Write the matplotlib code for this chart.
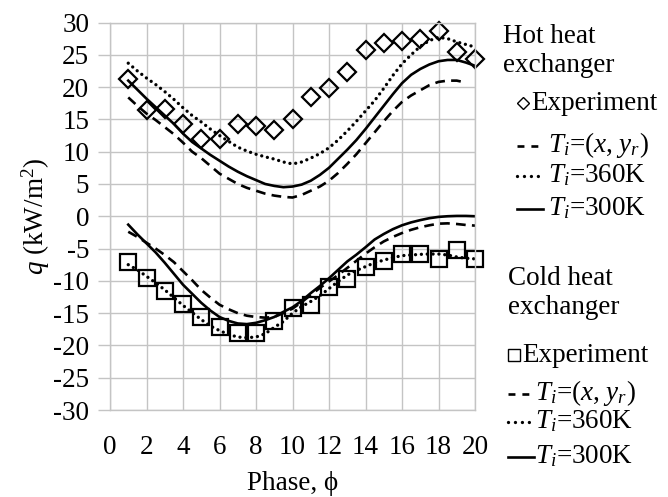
import matplotlib
matplotlib.use("Agg")
import matplotlib.pyplot as plt
from matplotlib.lines import Line2D

plt.rcParams['font.family'] = ['Liberation Serif', 'DejaVu Serif']
plt.rcParams['mathtext.fontset'] = 'custom'
plt.rcParams['mathtext.rm'] = 'Liberation Serif'
plt.rcParams['mathtext.it'] = 'Liberation Serif:italic'
plt.rcParams['lines.scale_dashes'] = False
plt.rcParams['axes.unicode_minus'] = False

# ---- data -------------------------------------------------------------
phase = [1, 2, 3, 4, 5, 6, 7, 8, 9, 10, 11, 12, 13, 14, 15, 16, 17, 18, 19, 20]
hot_exp = [21.2, 16.4, 16.6, 14.3, 12.0, 12.0, 14.3, 14.0, 13.3, 15.0,
           18.5, 19.8, 22.4, 25.7, 26.9, 27.2, 27.4, 28.7, 25.5, 24.3]
cold_exp = [-7.1, -9.5, -11.5, -13.6, -15.6, -17.2, -18.1, -18.1, -16.2, -14.2,
            -13.8, -10.9, -9.7, -7.8, -6.9, -5.8, -5.8, -6.6, -5.2, -6.6]

phase_sim = [1, 1.5, 2, 2.5, 3, 3.5, 4, 4.5, 5, 5.5, 6, 6.5, 7, 7.5, 8, 8.5,
             9, 9.5, 10, 10.5, 11, 11.5, 12, 12.5, 13, 13.5, 14, 14.5, 15,
             15.5, 16, 16.5, 17, 17.5, 18, 18.5, 19, 19.5, 20]

# hot heat exchanger, simulations
hot_xy = [18.4, 17.1, 15.9, 14.9, 13.8, 12.7, 11.4, 10.0, 9.0, 7.8, 6.6, 5.8,
          5.0, 4.4, 3.95, 3.5, 3.2, 3.0, 2.9, 3.3, 3.95, 4.6, 5.5, 6.7, 8.1,
          9.6, 11.3, 13.0, 14.7, 16.3, 17.7, 18.7, 19.5, 20.3, 20.8, 21.0,
          21.0, 20.7]
hot_360 = [23.7, 22.5, 21.4, 20.4, 19.3, 18.1, 16.8, 15.6, 14.6, 13.5, 12.5,
           11.6, 10.7, 10.1, 9.6, 9.2, 8.85, 8.4, 8.1, 8.4, 9.0, 9.7, 10.6,
           11.8, 13.2, 14.7, 16.3, 17.9, 19.8, 21.8, 23.6, 25.0, 26.3, 27.2,
           27.7, 27.5, 27.0, 26.6, 26.2]
hot_300 = [21.0, 19.6, 18.2, 16.9, 15.6, 14.3, 12.8, 11.5, 10.5, 9.5, 8.6,
           7.7, 6.9, 6.2, 5.6, 5.0, 4.7, 4.5, 4.6, 4.9, 5.5, 6.4, 7.5, 8.9,
           10.3, 11.8, 13.5, 15.3, 17.1, 18.9, 20.6, 21.9, 22.8, 23.5, 24.0,
           24.2, 24.2, 23.8, 23.3]

# cold heat exchanger, simulations
cold_xy = [-2.4, -3.2, -4.1, -5.0, -6.0, -7.1, -8.5, -9.9, -11.4, -12.6,
           -13.7, -14.4, -15.0, -15.4, -15.6, -15.7, -15.6, -15.0, -14.3,
           -13.3, -12.2, -11.1, -10.1, -9.1, -8.0, -6.9, -5.8, -4.8, -3.9,
           -3.2, -2.6, -2.1, -1.7, -1.4, -1.15, -1.1, -1.2, -1.35, -1.45]
cold_360 = [-7.5, -8.3, -9.3, -10.3, -11.4, -12.6, -13.8, -14.9, -16.0,
            -17.0, -17.7, -18.3, -18.7, -18.8, -18.7, -18.2, -17.2, -16.3,
            -15.0, -14.0, -13.2, -12.3, -11.2, -10.1, -9.1, -8.4, -7.8, -7.2,
            -6.8, -6.4, -6.1, -6.0, -5.9, -5.85, -5.85, -6.0, -6.3, -6.5, -6.6]
cold_300 = [-1.3, -2.8, -4.2, -5.6, -7.2, -8.9, -10.6, -12.0, -13.4, -14.6,
            -15.6, -16.2, -16.6, -16.7, -16.5, -16.1, -15.6, -14.8, -14.1,
            -13.1, -11.9, -10.8, -9.6, -8.3, -7.0, -5.95, -4.8, -3.6, -2.75,
            -2.0, -1.4, -0.95, -0.6, -0.3, -0.1, 0.0, 0.05, 0.05, 0.0]

x_ticks = [0, 2, 4, 6, 8, 10, 12, 14, 16, 18, 20]
y_ticks = [-30, -25, -20, -15, -10, -5, 0, 5, 10, 15, 20, 25, 30]

# ---- styles -----------------------------------------------------------
W, H = 668, 497
GRID = '#c4c4c4'
FS = 19.5
LW = 1.9
DASH = (0, (7, 4.5))
DOT = (0, (0.01, 4.2))

fig = plt.figure(figsize=(W / 100, H / 100), dpi=100)
ax = fig.add_axes([110 / W, 1 - 410 / H, 365 / W, 387.5 / H])


def px(x, y):
    return x / W, 1 - y / H


ax.set_xlim(0, 20)
ax.set_ylim(-30, 30)
ax.set_xticks(x_ticks)
ax.set_yticks(y_ticks)
ax.grid(True, color=GRID, lw=1.0)
ax.set_axisbelow(True)
for s in ax.spines.values():
    s.set_color(GRID)
    s.set_linewidth(1.0)
ax.tick_params(axis='y', length=9, width=1.0, color=GRID, pad=6, labelsize=FS)
ax.tick_params(axis='x', length=0, pad=18, labelsize=FS)

ax.set_xlabel('Phase, \u03d5', fontsize=FS, labelpad=8)
ax.set_ylabel('$q$ (kW/m$^2$)', fontsize=FS, labelpad=1)

line_kw = dict(color='black', lw=LW)
ax.plot(phase_sim[:len(hot_xy)], hot_xy, linestyle=DASH, **line_kw)
ax.plot(phase_sim, hot_360, linestyle=DOT, dash_capstyle='round', lw=2.4, color='black')
ax.plot(phase_sim, hot_300, linestyle='-', **line_kw)
ax.plot(phase, hot_exp, linestyle='none', marker='D', ms=8.8, mfc='none',
        mec='black', mew=1.6, clip_on=False)

ax.plot(phase_sim, cold_xy, linestyle=DASH, **line_kw)
ax.plot(phase_sim, cold_360, linestyle=DOT, dash_capstyle='round', lw=2.4, color='black')
ax.plot(phase_sim, cold_300, linestyle='-', **line_kw)
ax.plot(phase, cold_exp, linestyle='none', marker='s', ms=12.2, mfc='none',
        mec='black', mew=1.6, clip_on=False)

# ---- legend blocks ----------------------------------------------------
def legend_block(x0, y_title, y_rows, marker, marker_ms, sample_x, text_x):
    fig.text(*px(x0, y_title), 'Hot heat' if marker == 'D' else 'Cold heat',
             fontsize=FS, ha='left', va='baseline')
    fig.text(*px(x0, y_title + 29), 'exchanger', fontsize=FS, ha='left',
             va='baseline')
    y_exp, y_dash, y_dot, y_sol = y_rows
    mx, my = px(sample_x[0] + 6, y_exp - 7)
    fig.add_artist(Line2D([mx], [my], transform=fig.transFigure, marker=marker,
                          ms=marker_ms, mfc='none', mec='black', mew=1.0,
                          linestyle='none'))
    fig.text(*px(sample_x[0] + 14, y_exp), 'Experiment', fontsize=FS,
             ha='left', va='baseline')
    for yy, ls, lw, cap in ((y_dash, (0, (5, 5)), LW, 'butt'),
                            (y_dot, (0, (0.01, 5)), 2.4, 'round'),
                            (y_sol, '-', LW, 'butt')):
        xa, ya = px(sample_x[0], yy - 6)
        xb, _ = px(sample_x[1], yy - 6)
        fig.add_artist(Line2D([xa, xb], [ya, ya], transform=fig.transFigure,
                              color='black', lw=lw, linestyle=ls,
                              dash_capstyle=cap))
    fig.text(*px(text_x, y_dash), '$T_i$=($x$, $y_r$)', fontsize=FS,
             ha='left', va='baseline')
    fig.text(*px(text_x, y_dot), '$T_i$=360K', fontsize=FS, ha='left',
             va='baseline')
    fig.text(*px(text_x, y_sol), '$T_i$=300K', fontsize=FS, ha='left',
             va='baseline')


legend_block(503, 43, (110, 152, 182, 215), 'D', 6, (517, 543), 548)
legend_block(508, 285, (362, 400, 428, 463), 's', 8, (508, 534), 535)

fig.savefig('out.png', dpi=100)
